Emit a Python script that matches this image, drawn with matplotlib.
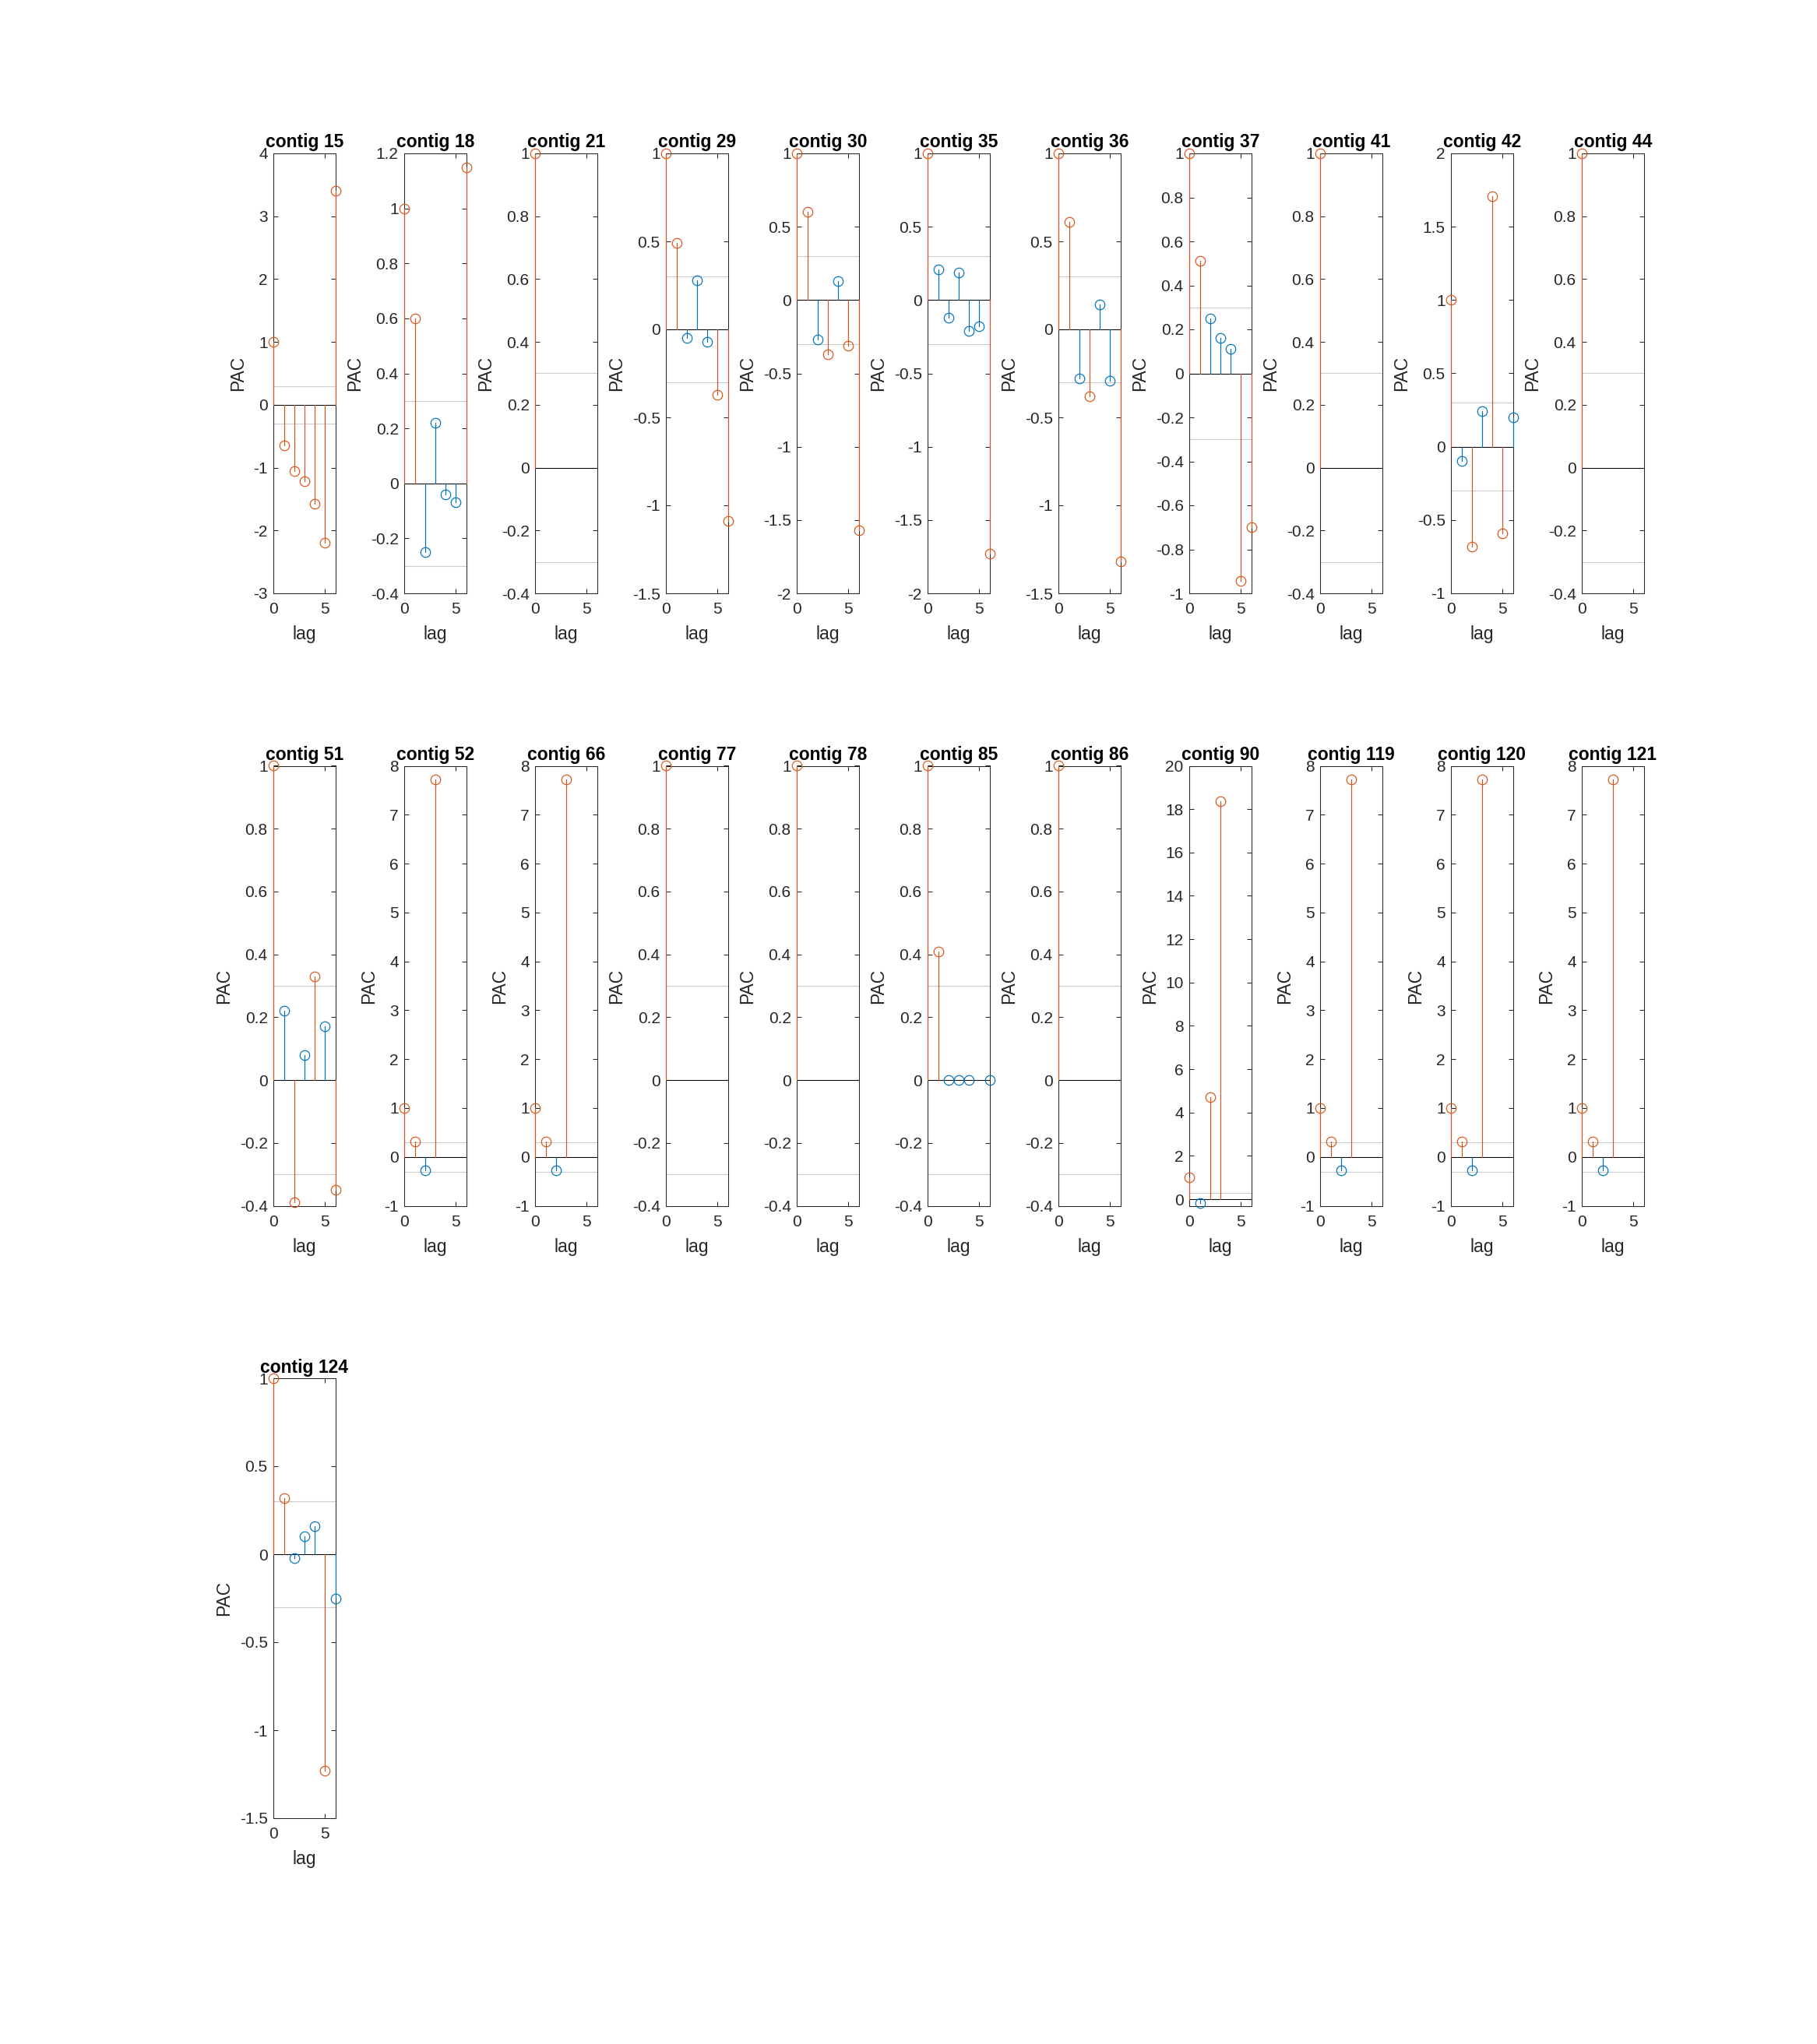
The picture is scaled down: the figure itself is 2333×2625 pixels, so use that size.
import numpy as np
import matplotlib
matplotlib.use("Agg")
import matplotlib.pyplot as plt

nan = np.nan

# PAC values per contig, lag 0..6 (nan = no value at that lag)
contigs = [15, 18, 21, 29, 30, 35, 36, 37, 41, 42, 44,
           51, 52, 66, 77, 78, 85, 86, 90, 119, 120, 121,
           124]

pac_15 = [1, -0.64, -1.06, -1.22, -1.58, -2.19, 3.40]
pac_18 = [1, 0.60, -0.25, 0.22, -0.04, -0.07, 1.15]
pac_21 = [1]
pac_29 = [1, 0.49, -0.05, 0.28, -0.07, -0.37, -1.09]
pac_30 = [1, 0.60, -0.27, -0.37, 0.13, -0.31, -1.57]
pac_35 = [1, 0.21, -0.12, 0.19, -0.21, -0.18, -1.73]
pac_36 = [1, 0.61, -0.28, -0.38, 0.14, -0.29, -1.32]
pac_37 = [1, 0.51, 0.25, 0.16, 0.11, -0.945, -0.70]
pac_41 = [1]
pac_42 = [1, -0.10, -0.68, 0.24, 1.71, -0.59, 0.20]
pac_44 = [1]
pac_51 = [1, 0.22, -0.39, 0.08, 0.33, 0.17, -0.35]
pac_52 = [1, 0.32, -0.28, 7.72]
pac_66 = [1, 0.32, -0.28, 7.72]
pac_77 = [1]
pac_78 = [1]
pac_85 = [1, 0.41, 0, 0, 0, nan, 0]
pac_86 = [1]
pac_90 = [1, -0.18, 4.73, 18.35]
pac_119 = [1, 0.32, -0.28, 7.72]
pac_120 = [1, 0.32, -0.28, 7.72]
pac_121 = [1, 0.32, -0.28, 7.72]
pac_124 = [1, 0.32, -0.02, 0.10, 0.16, -1.23, -0.25]

pac_values = [pac_15, pac_18, pac_21, pac_29, pac_30, pac_35, pac_36, pac_37,
              pac_41, pac_42, pac_44, pac_51, pac_52, pac_66, pac_77, pac_78,
              pac_85, pac_86, pac_90, pac_119, pac_120, pac_121, pac_124]

# y limits and tick step for each panel (as MATLAB chose them)
y_limits = [(-3, 4), (-0.4, 1.2), (-0.4, 1), (-1.5, 1), (-2, 1), (-2, 1),
            (-1.5, 1), (-1, 1), (-0.4, 1), (-1, 2), (-0.4, 1),
            (-0.4, 1), (-1, 8), (-1, 8), (-0.4, 1), (-0.4, 1), (-0.4, 1),
            (-0.4, 1), (-0.3, 20), (-1, 8), (-1, 8), (-1, 8),
            (-1.5, 1)]
y_steps = [1, 0.2, 0.2, 0.5, 0.5, 0.5, 0.5, 0.2, 0.2, 0.5, 0.2,
           0.2, 1, 1, 0.2, 0.2, 0.2, 0.2, 2, 1, 1, 1,
           0.5]

threshold = 0.3
max_lag = 6

plt.rcParams["font.family"] = ["Liberation Sans", "DejaVu Sans"]
plt.rcParams["axes.unicode_minus"] = False

col_sig = "#D95319"
col_nosig = "#0072BD"
col_axis = (0.15, 0.15, 0.15)

fig = plt.figure(figsize=(23.33, 26.25), dpi=100)

W, H = 2333, 2625
ncols = 11
for k, (name, vals) in enumerate(zip(contigs, pac_values)):
    row, col = divmod(k, ncols)
    left = (351.3 + 168 * col) / W
    top = 197 + 786.5 * row
    ax = fig.add_axes([left, 1 - (top + 565) / H, 79.4 / W, 565 / H])

    vals = np.array(vals, dtype=float)
    lags = np.arange(len(vals))
    ok = ~np.isnan(vals)

    # lineas de significancia y base
    ax.plot([0, max_lag], [threshold, threshold], color=(0.8, 0.8, 0.8), lw=0.8, zorder=1)
    ax.plot([0, max_lag], [-threshold, -threshold], color=(0.8, 0.8, 0.8), lw=0.8, zorder=1)
    ax.plot([0, max_lag], [0, 0], color="black", lw=0.75, zorder=2)

    for lag, v in zip(lags[ok], vals[ok]):
        c = col_sig if abs(v) > threshold else col_nosig
        ax.plot([lag, lag], [0, v], color=c, lw=0.85, zorder=3, clip_on=False)
        ax.plot(lag, v, "o", mfc="none", mec=c, ms=9, mew=0.85, zorder=4, clip_on=False)

    lo, hi = y_limits[k]
    step = y_steps[k]
    ax.set_xlim(0, max_lag)
    ax.set_ylim(lo, hi)
    ax.set_xticks([0, 5])
    n0 = int(np.ceil(lo / step - 1e-9))
    n1 = int(np.floor(hi / step + 1e-9))
    ax.set_yticks(np.round(np.arange(n0, n1 + 1) * step, 2))
    ax.yaxis.set_major_formatter(plt.FuncFormatter(lambda x, p: f"{x + 0.0:g}"))

    ax.tick_params(direction="in", top=True, right=True, length=4, width=0.75,
                   color=col_axis, labelcolor=col_axis, labelsize=15)
    ax.tick_params(axis="x", pad=8)
    ax.tick_params(axis="y", pad=5.5)
    for s in ax.spines.values():
        s.set_color(col_axis)
        s.set_linewidth(0.75)

    ax.set_title(f"contig {name}", fontsize=16.5, fontweight="bold", pad=5.4)
    ax.set_xlabel("lag", fontsize=16.5, color=col_axis, labelpad=8)
    ax.set_ylabel("PAC", fontsize=16.5, color=col_axis, labelpad=6)

fig.savefig("out.png", dpi=100)
